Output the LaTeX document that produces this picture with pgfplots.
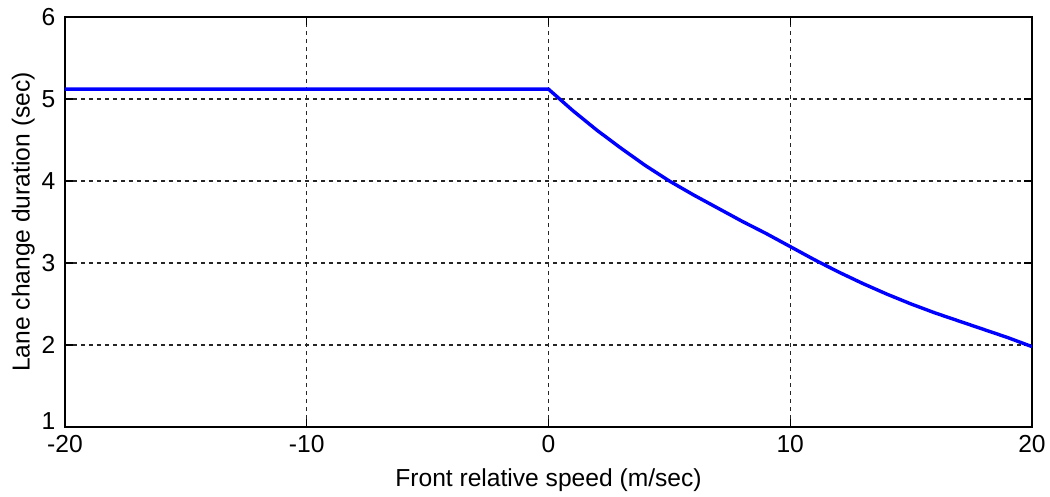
\documentclass[border=0pt]{standalone}
\usepackage{pgfplots}
\pgfplotsset{compat=1.18}
\usepackage{fontspec}
\setmainfont{Liberation Sans}
\begin{document}
\begin{tikzpicture}
\useasboundingbox[fill=white] (-32.5pt,-35pt) rectangle (492.5pt,213.5pt);
\begin{axis}[
  at={(0,0)}, anchor=south west,
  scale only axis,
  width=483.5pt, height=205pt,
  xmin=-20, xmax=20, ymin=1, ymax=6,
  xtick={-20,-10,0,10,20}, ytick={2,3,4,5,6},
  extra y ticks={1},
  extra y tick style={grid=none, yticklabel style={yshift=3pt}},
  grid=major,
  major grid style={black!85, line width=0.65pt, dash pattern=on 2pt off 2pt},
  axis line style={black, line width=0.6pt},
  tick style={black, line width=0.6pt},
  tick align=inside,
  major tick length=4pt,
  font=\fontsize{12.3}{14}\selectfont,
  /pgf/number format/assume math mode=true,
  yticklabel style={inner sep=1pt, xshift=-3.6pt},
  xticklabel style={inner sep=1pt, yshift=-3.1pt},
  xlabel={Front relative speed (m/sec)},
  ylabel={Lane change duration (sec)},
  xlabel style={yshift=-3.5pt},
  ylabel style={yshift=-1pt},
]
\addplot[blue, line width=1.7pt] coordinates {
(-20,5.12) (-10,5.12) (0,5.12)
(1,4.86) (2,4.62) (3,4.40) (4,4.19) (5,4.00) (6,3.83) (7,3.67) (8,3.51)
(9,3.36) (10,3.20) (11,3.04) (12,2.89) (13,2.75) (14,2.62) (15,2.50)
(16,2.39) (17,2.29) (18,2.19) (19,2.09) (20,1.98)
};
\end{axis}
\end{tikzpicture}
\end{document}
